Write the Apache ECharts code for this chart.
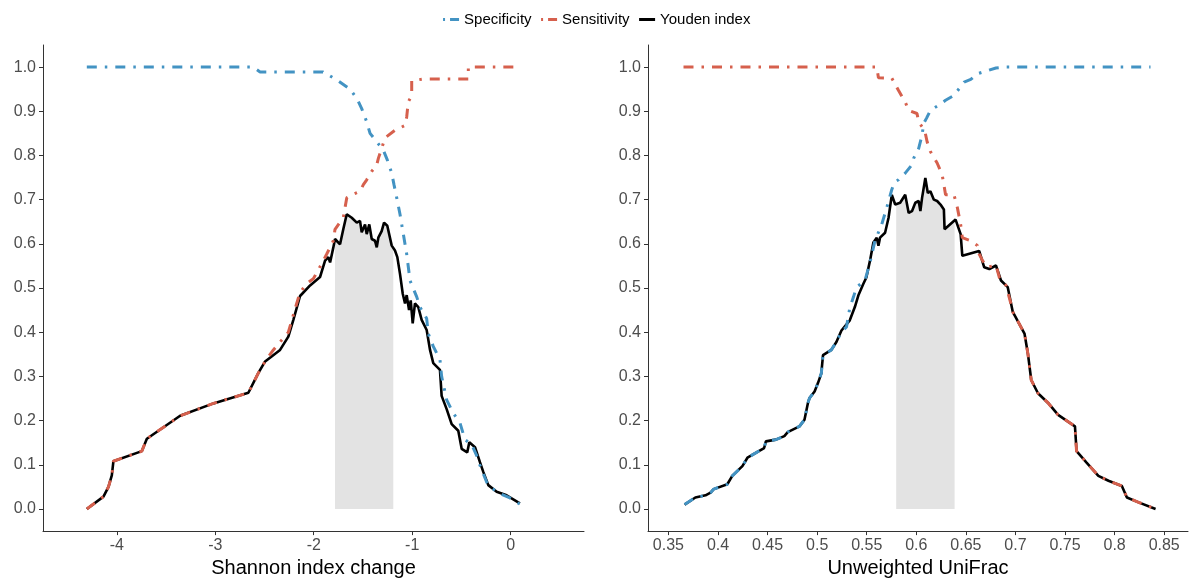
<!DOCTYPE html>
<html>
<head>
<meta charset="utf-8">
<script src="https://cdn.jsdelivr.net/npm/echarts@6/dist/echarts.min.js"></script>
<style>html,body{margin:0;padding:0;background:#fff;}#c{width:1192px;height:583px;}</style>
</head>
<body>
<div id="c"></div>
<script>
// ---------- data ----------
const seriesNames = ['Specificity', 'Sensitivity', 'Youden index'];
const yTicks = [0, 0.1, 0.2, 0.3, 0.4, 0.5, 0.6, 0.7, 0.8, 0.9, 1.0];
const xTicksShannon = [-4, -3, -2, -1, 0];
const xTicksUnifrac = [0.35, 0.4, 0.45, 0.5, 0.55, 0.6, 0.65, 0.7, 0.75, 0.8, 0.85];
const xTitleShannon = 'Shannon index change';
const xTitleUnifrac = 'Unweighted UniFrac';
const shadeShannon = [-1.784, -1.192];
const shadeUnifrac = [0.5797, 0.6386];

const specShannon = [[-4.305,1.0],[-2.616,1.0],[-2.545,0.989],[-1.906,0.989],[-1.885,0.985],[-1.834,0.98],[-1.753,0.969],[-1.631,0.95],[-1.560,0.928],[-1.513,0.906],[-1.462,0.876],[-1.428,0.85],[-1.360,0.831],[-1.293,0.812],[-1.253,0.79],[-1.208,0.76],[-1.185,0.734],[-1.157,0.704],[-1.124,0.667],[-1.090,0.622],[-1.056,0.577],[-1.022,0.517],[-0.954,0.48],[-0.921,0.457],[-0.853,0.431],[-0.837,0.397],[-0.786,0.368],[-0.718,0.338],[-0.701,0.30],[-0.650,0.247],[-0.583,0.217],[-0.515,0.195],[-0.464,0.157],[-0.396,0.146],[-0.345,0.121],[-0.312,0.099],[-0.244,0.061],[-0.210,0.05],[-0.109,0.035],[-0.007,0.025],[0.094,0.011]];
const sensShannon = [[-4.305,0],[-4.136,0.028],[-4.085,0.05],[-4.051,0.076],[-4.035,0.108],[-3.746,0.131],[-3.695,0.159],[-3.357,0.211],[-3.019,0.239],[-2.664,0.263],[-2.562,0.308],[-2.494,0.334],[-2.41,0.36],[-2.258,0.40],[-2.18,0.46],[-2.139,0.49],[-2.071,0.51],[-2.004,0.521],[-1.903,0.562],[-1.868,0.577],[-1.801,0.607],[-1.784,0.633],[-1.700,0.659],[-1.665,0.704],[-1.614,0.711],[-1.530,0.719],[-1.496,0.734],[-1.462,0.745],[-1.411,0.764],[-1.360,0.779],[-1.343,0.794],[-1.310,0.816],[-1.276,0.84],[-1.175,0.857],[-1.073,0.868],[-1.056,0.887],[-1.040,0.921],[-1.005,0.936],[-1.005,0.969],[-0.887,0.973],[-0.43,0.973],[-0.43,1.0],[0.094,1.0]];
const youdenShannon = [[-4.305,0],[-4.136,0.028],[-4.085,0.05],[-4.051,0.076],[-4.035,0.108],[-3.746,0.131],[-3.695,0.159],[-3.357,0.211],[-3.019,0.239],[-2.664,0.263],[-2.562,0.308],[-2.494,0.334],[-2.342,0.36],[-2.258,0.39],[-2.207,0.428],[-2.139,0.482],[-2.037,0.506],[-1.936,0.525],[-1.885,0.562],[-1.852,0.57],[-1.834,0.558],[-1.801,0.592],[-1.784,0.611],[-1.733,0.599],[-1.700,0.633],[-1.665,0.667],[-1.614,0.659],[-1.563,0.648],[-1.530,0.652],[-1.513,0.626],[-1.479,0.644],[-1.462,0.622],[-1.436,0.644],[-1.411,0.611],[-1.378,0.607],[-1.360,0.592],[-1.344,0.614],[-1.310,0.629],[-1.286,0.648],[-1.253,0.641],[-1.208,0.596],[-1.175,0.585],[-1.151,0.57],[-1.124,0.532],[-1.096,0.487],[-1.073,0.465],[-1.056,0.484],[-1.032,0.45],[-1.015,0.472],[-0.995,0.42],[-0.972,0.465],[-0.938,0.457],[-0.904,0.428],[-0.853,0.405],[-0.819,0.36],[-0.786,0.33],[-0.718,0.315],[-0.701,0.256],[-0.650,0.226],[-0.599,0.192],[-0.532,0.177],[-0.497,0.136],[-0.441,0.128],[-0.420,0.151],[-0.362,0.14],[-0.312,0.106],[-0.278,0.084],[-0.227,0.054],[-0.142,0.039],[-0.041,0.031],[0.094,0.013]];

const specUnifrac = [[0.3663,0.01],[0.3772,0.026],[0.3874,0.031],[0.3925,0.037],[0.3957,0.045],[0.4094,0.056],[0.4144,0.075],[0.4246,0.097],[0.4297,0.116],[0.4381,0.127],[0.4465,0.138],[0.4483,0.153],[0.4584,0.157],[0.4669,0.165],[0.4703,0.174],[0.4821,0.187],[0.4872,0.202],[0.4907,0.24],[0.4923,0.251],[0.4974,0.266],[0.5008,0.285],[0.5042,0.307],[0.5059,0.348],[0.5143,0.36],[0.5194,0.378],[0.5245,0.401],[0.5296,0.412],[0.5329,0.455],[0.5365,0.479],[0.5397,0.502],[0.5482,0.517],[0.5533,0.558],[0.5583,0.607],[0.5651,0.644],[0.5702,0.682],[0.5753,0.723],[0.5780,0.74],[0.5821,0.745],[0.5888,0.76],[0.5956,0.779],[0.5974,0.794],[0.6024,0.816],[0.6058,0.846],[0.6075,0.873],[0.6102,0.884],[0.6142,0.902],[0.6228,0.914],[0.6295,0.925],[0.6380,0.936],[0.6431,0.951],[0.6482,0.966],[0.6549,0.972],[0.6617,0.985],[0.6718,0.992],[0.6803,0.998],[0.6888,1.0],[0.8362,1.0]];
const sensUnifrac = [[0.3652,1.0],[0.5601,1.0],[0.5618,0.976],[0.5753,0.975],[0.5821,0.947],[0.5888,0.921],[0.5923,0.902],[0.6007,0.895],[0.6024,0.876],[0.6058,0.865],[0.6091,0.85],[0.6109,0.831],[0.6142,0.809],[0.6210,0.783],[0.6261,0.756],[0.6278,0.734],[0.6295,0.711],[0.6380,0.711],[0.6414,0.682],[0.6447,0.644],[0.6464,0.614],[0.6549,0.607],[0.6617,0.596],[0.6634,0.577],[0.6668,0.562],[0.6719,0.547],[0.6803,0.552],[0.6837,0.524],[0.6904,0.506],[0.6955,0.464],[0.6973,0.446],[0.7091,0.397],[0.7125,0.352],[0.7159,0.292],[0.7227,0.262],[0.7329,0.24],[0.7430,0.213],[0.7600,0.187],[0.7616,0.131],[0.7717,0.105],[0.7836,0.075],[0.7938,0.064],[0.8073,0.052],[0.8124,0.026],[0.8242,0.015],[0.8413,0.0]];
const youdenUnifrac = [[0.3663,0.01],[0.3772,0.026],[0.3874,0.031],[0.3925,0.037],[0.3957,0.045],[0.4094,0.056],[0.4144,0.075],[0.4246,0.097],[0.4297,0.116],[0.4381,0.127],[0.4465,0.138],[0.4483,0.153],[0.4584,0.157],[0.4669,0.165],[0.4703,0.174],[0.4821,0.187],[0.4872,0.202],[0.4907,0.24],[0.4923,0.251],[0.4974,0.266],[0.5008,0.285],[0.5042,0.307],[0.5059,0.348],[0.5143,0.36],[0.5194,0.378],[0.5245,0.404],[0.5329,0.427],[0.5380,0.457],[0.5415,0.483],[0.5465,0.509],[0.5496,0.524],[0.5533,0.562],[0.5567,0.603],[0.5601,0.614],[0.5618,0.596],[0.5634,0.614],[0.5685,0.625],[0.5720,0.659],[0.5753,0.711],[0.5787,0.689],[0.5837,0.693],[0.5888,0.711],[0.5923,0.670],[0.5956,0.674],[0.5990,0.693],[0.6024,0.697],[0.6041,0.674],[0.6058,0.704],[0.6091,0.749],[0.6116,0.715],[0.6142,0.719],[0.6177,0.700],[0.6210,0.697],[0.6244,0.689],[0.6278,0.678],[0.6285,0.633],[0.6396,0.655],[0.6447,0.622],[0.6464,0.573],[0.6634,0.584],[0.6685,0.547],[0.6736,0.543],[0.6803,0.551],[0.6854,0.517],[0.6922,0.502],[0.6973,0.446],[0.7091,0.397],[0.7125,0.352],[0.7159,0.292],[0.7227,0.262],[0.7329,0.24],[0.7430,0.213],[0.7600,0.187],[0.7616,0.131],[0.7717,0.105],[0.7836,0.075],[0.7938,0.064],[0.8073,0.052],[0.8124,0.026],[0.8242,0.015],[0.8413,0.0]];

// ---------- styling ----------
const BLUE = '#4393c3', RED = '#d6604d', BLACK = '#000000', SHADE = '#e3e3e3';
const DOTDASH = [10, 8, 2.5, 8];
const FONT = 'Liberation Sans, Arial, sans-serif';

// shaded area points: Youden values within the band, with the band edges on the curve
function band(data, lo, hi) {
  const at = (x) => {
    for (let i = 0; i < data.length - 1; i++) {
      const a = data[i], b = data[i + 1];
      if (x >= a[0] && x <= b[0]) {
        if (b[0] === a[0]) return a[1];
        return a[1] + (b[1] - a[1]) * (x - a[0]) / (b[0] - a[0]);
      }
    }
    return 0;
  };
  const pts = [[lo, at(lo)]];
  data.forEach(p => { if (p[0] > lo && p[0] < hi) pts.push(p); });
  pts.push([hi, at(hi)]);
  return pts;
}

function xAxis(gridIndex, min, max, ticks, title) {
  return {
    type: 'value', gridIndex, min, max,
    name: title, nameLocation: 'middle', nameGap: 25,
    nameTextStyle: { fontFamily: FONT, fontSize: 20, color: '#000' },
    axisLine: { show: true, onZero: false, lineStyle: { color: '#333', width: 1 } },
    axisTick: { show: true, length: 4, lineStyle: { color: '#333' }, customValues: ticks },
    axisLabel: { fontFamily: FONT, fontSize: 16, color: '#4d4d4d', margin: 6, customValues: ticks,
      formatter: v => String(+v.toFixed(2)) },
    splitLine: { show: false }
  };
}
function yAxis(gridIndex) {
  return {
    type: 'value', gridIndex, min: -0.05, max: 1.05,
    axisLine: { show: true, onZero: false, lineStyle: { color: '#333', width: 1 } },
    axisTick: { show: true, length: 4, lineStyle: { color: '#333' }, customValues: yTicks },
    axisLabel: { fontFamily: FONT, fontSize: 16, color: '#4d4d4d', margin: 7, customValues: yTicks,
      formatter: v => v.toFixed(1) },
    splitLine: { show: false }
  };
}
function lines(idx, spec, sens, youden, shade) {
  const base = { type: 'line', xAxisIndex: idx, yAxisIndex: idx, showSymbol: false, symbol: 'none', smooth: false, animation: false };
  return [
    Object.assign({}, base, { name: 'shade' + idx, data: band(youden, shade[0], shade[1]), z: 1,
      itemStyle: { color: SHADE },
      lineStyle: { width: 0, opacity: 0 }, areaStyle: { color: SHADE, opacity: 1, origin: 0 }, silent: true }),
    Object.assign({}, base, { name: seriesNames[2], data: youden, z: 2, itemStyle: { color: BLACK },
      lineStyle: { color: BLACK, width: 2.6 } }),
    Object.assign({}, base, { name: seriesNames[0], data: spec, z: 3, itemStyle: { color: BLUE },
      lineStyle: { color: BLUE, width: 3, type: DOTDASH } }),
    Object.assign({}, base, { name: seriesNames[1], data: sens, z: 4, itemStyle: { color: RED },
      lineStyle: { color: RED, width: 3, type: DOTDASH } })
  ];
}

const chart = echarts.init(document.getElementById('c'), null, { renderer: 'canvas' });
chart.setOption({
  animation: false,
  legend: {
    top: 7, left: 'center', itemWidth: 16, itemHeight: 10, itemGap: 8,
    textStyle: { fontFamily: FONT, fontSize: 15, color: '#000' },
    data: [
      { name: seriesNames[0], itemStyle: { opacity: 0 }, lineStyle: { color: BLUE, width: 3, type: [2, 5, 9, 10] } },
      { name: seriesNames[1], itemStyle: { opacity: 0 }, lineStyle: { color: RED, width: 3, type: [2, 5, 9, 10] } },
      { name: seriesNames[2], itemStyle: { opacity: 0 }, lineStyle: { color: BLACK, width: 3 } }
    ]
  },
  grid: [
    { left: 43, right: 608, top: 45, bottom: 47 },
    { left: 648, right: 4, top: 45, bottom: 47 }
  ],
  xAxis: [
    xAxis(0, -4.75, 0.745, xTicksShannon, xTitleShannon),
    xAxis(1, 0.3294, 0.874, xTicksUnifrac, xTitleUnifrac)
  ],
  yAxis: [yAxis(0), yAxis(1)],
  series: [].concat(
    lines(0, specShannon, sensShannon, youdenShannon, shadeShannon),
    lines(1, specUnifrac, sensUnifrac, youdenUnifrac, shadeUnifrac)
  )
});
</script>
</body>
</html>
